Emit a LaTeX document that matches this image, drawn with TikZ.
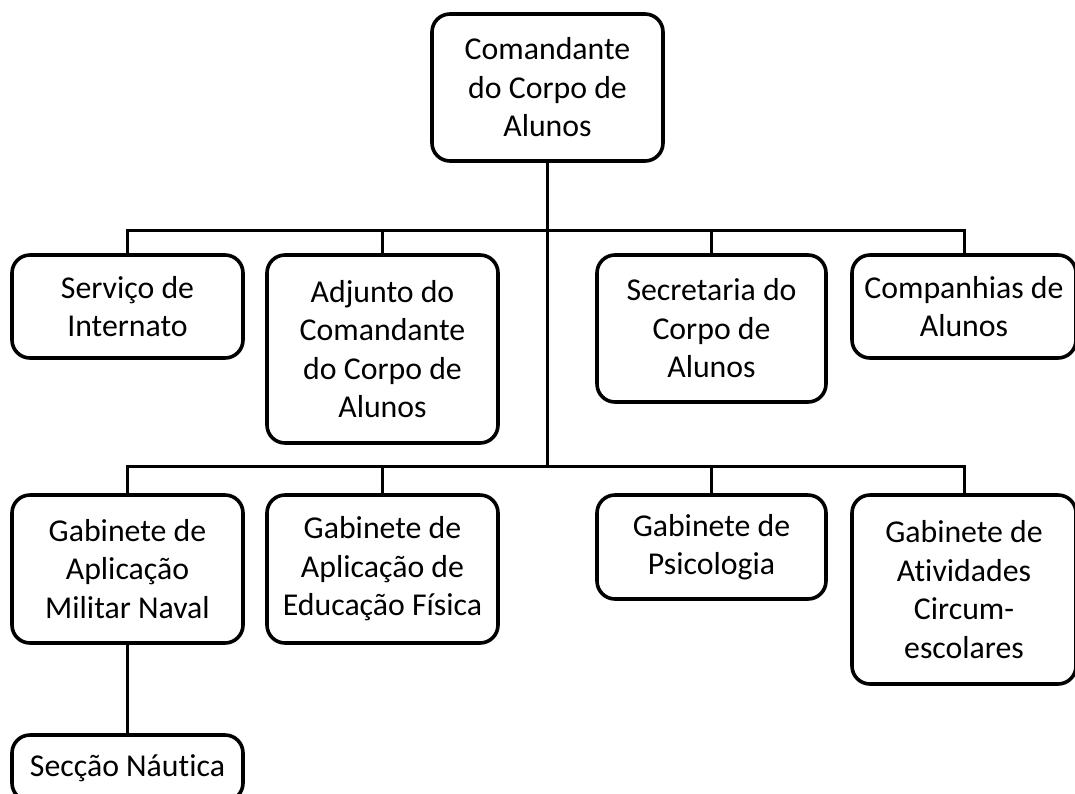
\documentclass[tikz,border=0pt]{standalone}
\usepackage{fontspec}
\setmainfont{Carlito}[Ligatures=NoCommon]
\begin{document}
\begin{tikzpicture}[x=1pt,y=-1pt,
  box/.style={draw=black, fill=white, line width=3.6pt, rounded corners=18pt,
    align=center, inner sep=0pt, font=\fontsize{31.8}{38.5}\selectfont,
    rectangle},
  conn/.style={draw=black, line width=3pt}]
\useasboundingbox (0,0) rectangle (1075,793);
% top
\node[box, minimum width=231pt, minimum height=147pt] (top) at (547.5,87.5) {Comandante\\do Corpo de\\Alunos};
% row 1
\node[box, minimum width=231pt, minimum height=103pt] (a1) at (127.5,306.5) {Serviço de\\Internato};
\node[box, minimum width=231pt, minimum height=188pt] (a2) at (382.5,349) {Adjunto do\\Comandante\\do Corpo de\\Alunos};
\node[box, minimum width=229pt, minimum height=147pt] (a3) at (711.5,328.5) {Secretaria do\\Corpo de\\Alunos};
\node[box, minimum width=224pt, minimum height=103pt] (a4) at (964,306.5) {Companhias de\\Alunos};
% row 2
\node[box, minimum width=231pt, minimum height=148pt] (b1) at (127.5,569) {Gabinete de\\Aplicação\\Militar Naval};
\node[box, minimum width=231pt, minimum height=148pt] (b2) at (382.5,569) {Gabinete de\\Aplicação de\\Educação Física};
\node[box, minimum width=229pt, minimum height=104pt] (b3) at (711.5,547) {Gabinete de\\Psicologia};
\node[box, minimum width=224pt, minimum height=189pt] (b4) at (964,589.5) {Gabinete de\\Atividades\\Circum-\\escolares};
% row 3
\node[box, minimum width=231pt, minimum height=66pt] (c1) at (127.5,768) {Secção Náutica};
% junctions
\coordinate (r1) at (547.5,230);
\coordinate (r2) at (547.5,466);
\draw[conn] (top.south) -- (r2);
\draw[conn] (a1.north) |- (r1) -| (a4.north);
\draw[conn] (a2.north) -- (a2.north |- r1);
\draw[conn] (a3.north) -- (a3.north |- r1);
\draw[conn] (b1.north) |- (r2) -| (b4.north);
\draw[conn] (b2.north) -- (b2.north |- r2);
\draw[conn] (b3.north) -- (b3.north |- r2);
\draw[conn] (b1.south) -- (c1.north);
\end{tikzpicture}
\end{document}
